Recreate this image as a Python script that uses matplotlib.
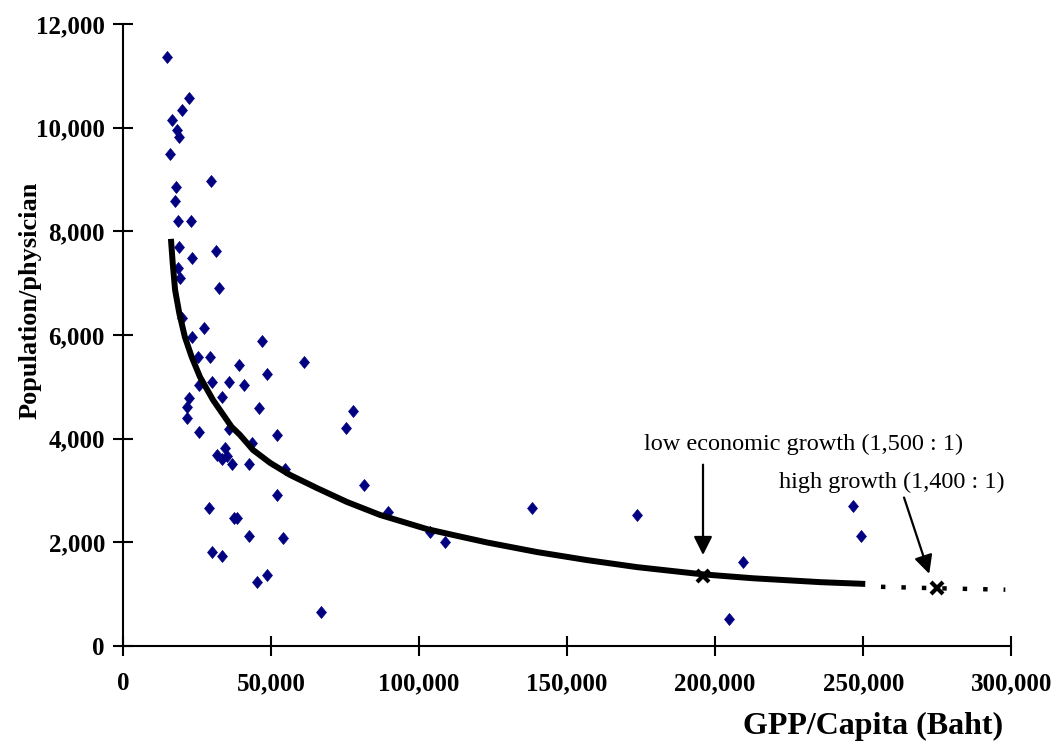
import matplotlib
matplotlib.use('Agg')
import matplotlib.pyplot as plt
from matplotlib.ticker import FuncFormatter

# provinces: GPP per capita (Baht) vs population per physician
gpp = [14860, 16550, 15880, 18240, 18920, 19930, 22300, 17910, 17570, 18580,
       22970, 29730, 18920, 23310, 31420, 18580, 19260, 32430, 19930, 27360,
       23310, 46960, 25340, 29390, 39190, 48650, 25680, 30070, 35810, 40880,
       22300, 33450, 45950, 21620, 21620, 61150, 77700, 75340, 25680, 35810,
       52030, 43580, 34460, 31760, 35140, 33450, 36820, 42570, 54730, 52030,
       81420, 89530, 103720, 108780, 29050, 37500, 38510, 42570, 54050, 30070,
       33450, 45270, 48650, 66890, 138180, 173650, 209460, 204730, 246620, 249320]
pop_per_doc = [11363, 10148, 9492, 9955, 9820, 10341, 10572, 8855, 8585, 8199,
               8199, 8971, 7698, 7486, 7621, 7293, 7100, 6907, 6328, 6135,
               5961, 5884, 5576, 5576, 5421, 5248, 5035, 5093, 5093, 5035,
               4785, 4804, 4592, 4611, 4399, 5479, 4534, 4206, 4129, 4187,
               4071, 3916, 3820, 3685, 3666, 3608, 3511, 3511, 3415, 2913,
               3106, 2585, 2199, 2006, 2662, 2469, 2469, 2122, 2084, 1814,
               1736, 1235, 1370, 656, 2662, 2527, 1621, 521, 2701, 2122]

# trend line
trend_x = [16200, 16800, 17600, 19000, 20900, 23200, 26000, 30400, 36700, 39500,
           43900, 49700, 56400, 65400, 75600, 86800, 102600, 111500, 123000, 139900,
           156800, 173600, 195900, 212800, 235500, 250700]
trend_y = [7852, 7389, 6868, 6424, 5961, 5576, 5190, 4746, 4225, 4071,
           3781, 3531, 3299, 3048, 2778, 2527, 2255, 2140, 1995, 1810,
           1655, 1520, 1380, 1305, 1230, 1196]

# projection beyond the data
proj_x = [256000, 275000, 298000]
proj_y = [1140, 1112, 1085]

# scenario points (low growth, high growth)
scen_x = [195900, 275000]
scen_y = [1340, 1112]

x_ticks = [0, 50000, 100000, 150000, 200000, 250000, 300000]
y_ticks = [0, 2000, 4000, 6000, 8000, 10000, 12000]

serif = ['Liberation Serif', 'DejaVu Serif']

fig = plt.figure(figsize=(10.6, 7.45), dpi=100)
ax = fig.add_axes([0.116, 0.133, 0.838, 0.835])

diamond = [(0, 1), (0.83, 0), (0, -1), (-0.83, 0), (0, 1)]
ax.plot(gpp, pop_per_doc, linestyle='none', marker=diamond, markersize=8.6,
        color='#000080', markeredgewidth=0.5, zorder=3)
ax.plot(trend_x, trend_y, color='black', linewidth=4.3, solid_capstyle='butt', zorder=4)
ax.plot(proj_x, proj_y, color='black', linewidth=3.2, linestyle=(0, (1, 3.6)),
        dash_capstyle='butt', zorder=4)
ax.plot(scen_x, scen_y, linestyle='none', marker='x', markersize=9,
        markeredgewidth=3, color='black', zorder=5)

ax.annotate('', xy=(195900, 1700), xytext=(195900, 3550),
            arrowprops=dict(arrowstyle='-|>', color='black', lw=1.6, mutation_scale=28))
ax.annotate('', xy=(272600, 1340), xytext=(263500, 2913),
            arrowprops=dict(arrowstyle='-|>', color='black', lw=1.6, mutation_scale=28))
ax.text(229700, 3878, 'low economic growth (1,500 : 1)', ha='center', va='center',
        fontsize=17.5, family=serif)
ax.text(259500, 3145, 'high growth (1,400 : 1)', ha='center', va='center',
        fontsize=17.5, family=serif)

ax.set_xlim(0, 300000)
ax.set_ylim(0, 12000)
ax.set_xticks(x_ticks)
ax.set_yticks(y_ticks)
fmt = FuncFormatter(lambda v, p: f'{int(v):,}')
ax.xaxis.set_major_formatter(fmt)
ax.yaxis.set_major_formatter(fmt)
ax.tick_params(direction='inout', length=14, width=1.5, colors='black')
ax.tick_params(axis='x', pad=12)
ax.tick_params(axis='y', pad=6)
for lab in ax.get_xticklabels() + ax.get_yticklabels():
    lab.set_family(serif)
    lab.set_fontweight('bold')
    lab.set_fontsize(18)

for s in ['top', 'right']:
    ax.spines[s].set_visible(False)
for s in ['left', 'bottom']:
    ax.spines[s].set_linewidth(1.5)

ax.set_xlabel('GPP/Capita (Baht)', fontsize=23, fontweight='bold', family=serif)
ax.set_ylabel('Population/physician', fontsize=19, fontweight='bold', family=serif)
ax.xaxis.set_label_coords(0.845, -0.13)
ax.xaxis.label.set_va('center')
ax.yaxis.set_label_coords(-0.105, 0.556)
ax.yaxis.label.set_va('center')

fig.savefig('out.png', dpi=100)
